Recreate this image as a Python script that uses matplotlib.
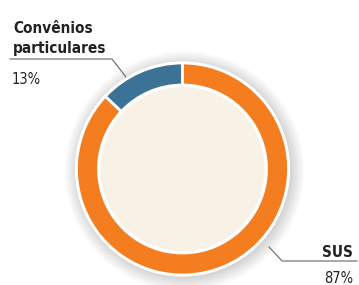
import matplotlib.pyplot as plt
from matplotlib.patches import Circle
import numpy as np

# data
labels = ["Convênios\nparticulares", "SUS"]
pcts = [13, 87]
colors = ["#3b7296", "#f47d20"]

W, H = 359, 285
fig = plt.figure(figsize=(W / 100, H / 100), dpi=100)
ax = fig.add_axes([0, 0, 1, 1])
ax.set_xlim(0, W)
ax.set_ylim(0, H)
ax.set_aspect("equal")
ax.axis("off")

cx, cy = 182.5, H - 169
r = 106
ring = 22

# soft shadow around the donut
for rr in np.linspace(r + 14, r + 1, 14):
    ax.add_patch(Circle((cx + 2, cy - 2), rr, color="#000000", alpha=0.013, lw=0, zorder=1))

ax.add_patch(Circle((cx, cy), r + 1.5, color="white", lw=0, zorder=2))
wedges, _ = ax.pie(pcts, colors=colors, startangle=90, counterclock=True, center=(cx, cy), radius=r,
                   wedgeprops=dict(width=ring, edgecolor="white", linewidth=2))
for w in wedges:
    w.set_zorder(3)
ax.add_patch(Circle((cx, cy), r - ring - 2, color="#f8f1e6", lw=0, zorder=5))
ax.set_xlim(0, W)
ax.set_ylim(0, H)

fam = "DejaVu Sans"
tc = "#222222"

# Convenios label
ax.text(13, H - 53, labels[0], ha="left", va="baseline", fontsize=11, fontweight="bold",
        family=fam, fontstretch="condensed", color=tc, linespacing=1.45)
ax.text(12, H - 84, f"{pcts[0]}%", ha="left", va="baseline", fontsize=10.5, family=fam,
        fontstretch="condensed", color=tc)
ax.plot([10, 112, 126], [H - 59, H - 59, H - 77], color="#666666", lw=0.8)

# SUS label
ax.text(353, H - 257, labels[1], ha="right", va="baseline", fontsize=11, fontweight="bold",
        family=fam, fontstretch="condensed", color=tc)
ax.text(353, H - 283, f"{pcts[1]}%", ha="right", va="baseline", fontsize=10.5, family=fam,
        fontstretch="condensed", color=tc)
ax.plot([269, 282, 357], [H - 247, H - 261, H - 261], color="#666666", lw=0.8)

fig.savefig("out.png", dpi=100)
